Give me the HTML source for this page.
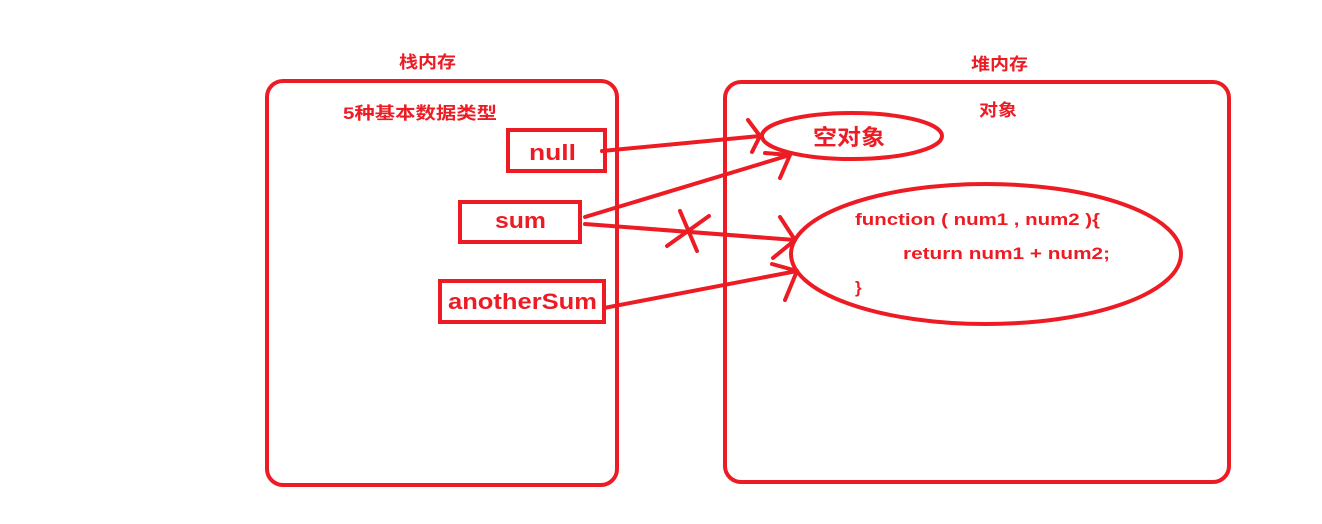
<!DOCTYPE html>
<html><head><meta charset="utf-8"><style>html,body{margin:0;padding:0;background:#fff}svg{display:block}</style></head>
<body>
<svg width="1322" height="524" viewBox="0 0 1322 524" xmlns="http://www.w3.org/2000/svg">
<g fill="none" stroke="#ed1c24" stroke-width="4" stroke-linecap="round">
<rect x="267" y="81" width="350" height="404" rx="16"/>
<rect x="725" y="82" width="504" height="400" rx="16"/>
<rect x="508" y="130" width="97" height="41"/>
<rect x="460" y="202" width="120" height="40"/>
<rect x="440" y="281" width="164" height="41"/>
<ellipse cx="852" cy="136" rx="90" ry="23"/>
<ellipse cx="986" cy="254" rx="195" ry="70"/>
<path d="M602 151 L760 136 M760 136 L748 120 M760 136 L752 152"/>
<path d="M585 217 L790 155 M790 155 L765 153 M790 155 L780 178"/>
<path d="M585 224 L795 240 M795 240 L780 217 M795 240 L773 258"/>
<path d="M680 211 L697 251 M667 246 L709 216"/>
<path d="M604 308 L797 271 M797 271 L772 264 M797 271 L785 300"/>
</g>
<g fill="#ed1c24" font-family="'Liberation Sans','Noto Sans CJK SC',sans-serif" font-weight="bold" lengthAdjust="spacingAndGlyphs">
<text x="399" y="68" font-size="17" textLength="57" lengthAdjust="spacingAndGlyphs">栈内存</text>
<text x="971" y="70" font-size="17" textLength="57" lengthAdjust="spacingAndGlyphs">堆内存</text>
<text x="343" y="119" font-size="17" textLength="154" lengthAdjust="spacingAndGlyphs">5种基本数据类型</text>
<text x="979" y="116" font-size="17" textLength="38" lengthAdjust="spacingAndGlyphs">对象</text>
<text x="529" y="160" font-size="22" textLength="47" lengthAdjust="spacingAndGlyphs">null</text>
<text x="495" y="228" font-size="22" textLength="51" lengthAdjust="spacingAndGlyphs">sum</text>
<text x="448" y="309" font-size="22" textLength="149" lengthAdjust="spacingAndGlyphs">anotherSum</text>
<text x="813" y="145" font-size="22" textLength="72" lengthAdjust="spacingAndGlyphs">空对象</text>
<text x="855" y="225" font-size="17" textLength="245" lengthAdjust="spacingAndGlyphs">function ( num1 , num2 ){</text>
<text x="903" y="259" font-size="17" textLength="207" lengthAdjust="spacingAndGlyphs">return num1 + num2;</text>
<text x="855" y="293" font-size="17">}</text>
</g>
</svg>
</body></html>
